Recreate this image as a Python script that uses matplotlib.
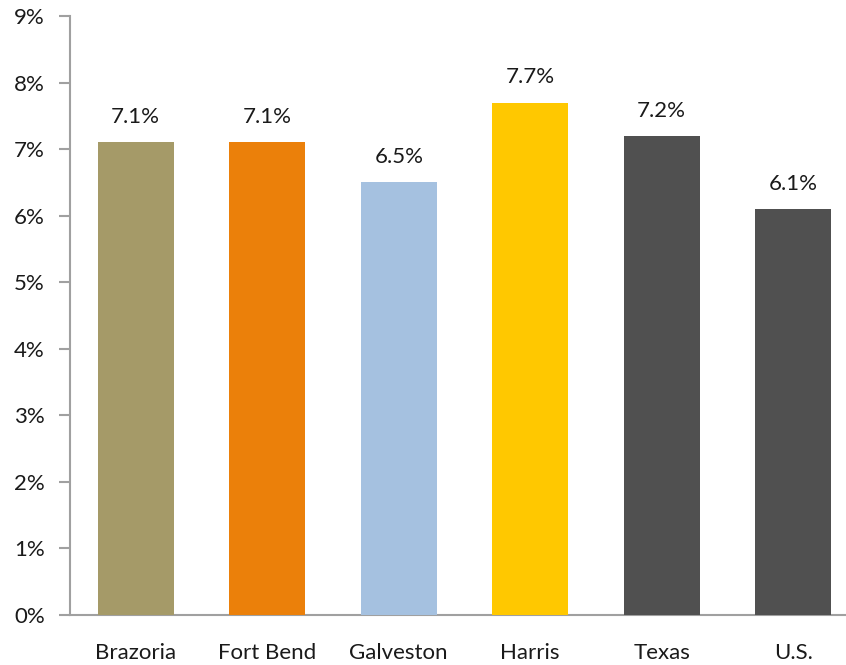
import matplotlib
matplotlib.use("Agg")
import matplotlib.pyplot as plt
from matplotlib.ticker import FuncFormatter, MultipleLocator

categories = ["Brazoria", "Fort Bend", "Galveston", "Harris", "Texas", "U.S."]
rates = [7.1, 7.1, 6.5, 7.7, 7.2, 6.1]
colors = ["#A59A68", "#EB800A", "#A5C1E0", "#FFC800", "#505050", "#505050"]

plt.rcParams["font.family"] = ["Lato", "DejaVu Sans"]

fig = plt.figure(figsize=(8.46, 6.65), dpi=100)
ax = fig.add_axes([70 / 846, 1 - 615 / 665, (859 - 70) / 846, (615 - 16) / 665])

x = range(len(categories))
ax.bar(x, rates, width=0.58, color=colors, zorder=3)

for xi, v in zip(x, rates):
    ax.annotate(f"{v:.1f}%", (xi, v), xytext=(0, 11), textcoords="offset points",
                ha="center", va="bottom", fontsize=16, color="#1a1a1a")

ax.set_xlim(-0.5, len(categories) - 0.5)
ax.set_ylim(0, 9)
ax.yaxis.set_major_locator(MultipleLocator(1))
ax.yaxis.set_major_formatter(FuncFormatter(lambda v, _: f"{v:.0f}%"))
ax.set_xticks(list(x))
ax.set_xticklabels(categories)

for side in ("top", "right"):
    ax.spines[side].set_visible(False)
for side in ("left", "bottom"):
    ax.spines[side].set_color("#A0A0A0")
    ax.spines[side].set_linewidth(1.5)

ax.tick_params(axis="y", length=8, width=1.5, color="#A0A0A0", labelsize=16,
               labelcolor="#1a1a1a", pad=10)
ax.tick_params(axis="x", length=0, labelsize=16, labelcolor="#1a1a1a", pad=20)

fig.savefig("out.png", dpi=100)
